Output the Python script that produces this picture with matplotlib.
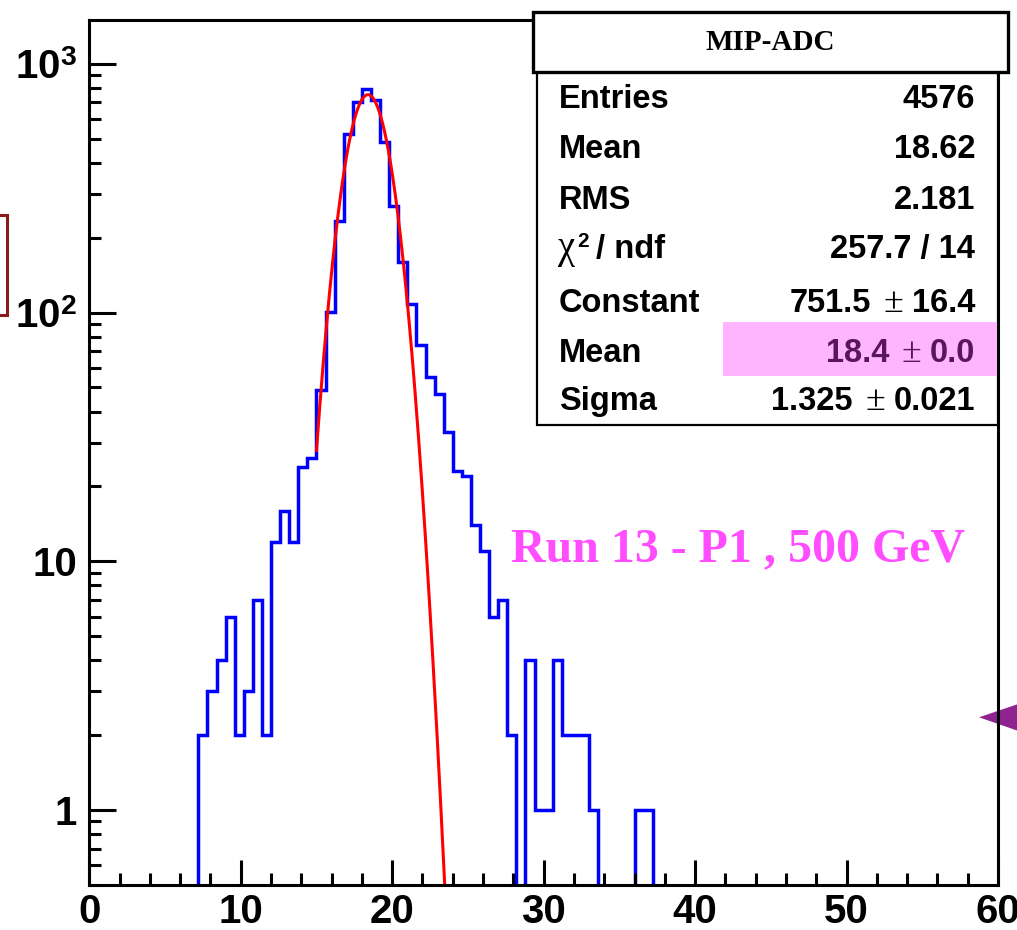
import numpy as np
import matplotlib
matplotlib.use('Agg')
import matplotlib.pyplot as plt
from matplotlib.patches import Rectangle, Polygon
from matplotlib.ticker import FixedLocator, FixedFormatter, MultipleLocator, NullFormatter

# histogram: 100 bins of 0.6 between 0 and 60, first filled bin is #12 (7.2)
n_bins = 100
x_lo, x_hi = 0.0, 60.0
first_bin = 12
counts_from_first = [2, 3, 4, 6, 2, 3, 7, 2,
                     12, 16, 12, 24, 26, 49,
                     101, 234, 524, 705, 790, 715, 485, 268, 160, 108,
                     74, 55, 47, 33, 23, 22, 14, 11, 6, 7, 2,
                     0, 4, 1, 1, 4, 2, 2, 2, 1, 0, 0, 0, 0, 1, 1]

# gaus fit result
fit_const = 751.5
fit_mean = 18.4
fit_sigma = 1.325
fit_range = (15.0, 24.0)

# stats box
stat_title = "MIP-ADC"
stat_labels = ["Entries", "Mean", "RMS", None, "Constant", "Mean", "Sigma"]
stat_values = ["4576", "18.62", "2.181", "257.7 / 14", "751.5", "18.4", "1.325"]
stat_errors = [None, None, None, None, "16.4", "0.0", "0.021"]

run_label = "Run 13 - P1 , 500 GeV"

y_ticks = [1, 10, 100, 1000]
y_ticklabels = ["1", "10", r"$10^{2}$", r"$10^{3}$"]

plt.rcParams['mathtext.fontset'] = 'custom'
plt.rcParams['mathtext.rm'] = 'Liberation Sans:bold'
plt.rcParams['mathtext.bf'] = 'Liberation Sans:bold'
plt.rcParams['mathtext.it'] = 'Liberation Serif'

W, H = 1017, 930
def fx(x):
    return x / W
def fy(y):
    return 1 - y / H

fig = plt.figure(figsize=(W / 100, H / 100), dpi=100)
ax = fig.add_axes([fx(89.3), fy(885), (998 - 89.3) / W, (885 - 20) / H])
ax.set_facecolor('none')

counts = np.zeros(n_bins)
counts[first_bin:first_bin + len(counts_from_first)] = counts_from_first
edges = np.linspace(x_lo, x_hi, n_bins + 1)

ax.set_yscale('log')
ax.stairs(counts, edges, color='#0000ff', lw=2.5, baseline=None)

xf = np.linspace(fit_range[0], fit_range[1], 400)
yf = fit_const * np.exp(-0.5 * ((xf - fit_mean) / fit_sigma) ** 2)
ax.plot(xf, yf, color='#ff0000', lw=2.2)

ax.set_xlim(x_lo, x_hi)
ax.set_ylim(0.5, 1500)

for s in ax.spines.values():
    s.set_linewidth(2.2)

ax.xaxis.set_major_locator(MultipleLocator(10))
ax.xaxis.set_minor_locator(MultipleLocator(2))
ax.yaxis.set_major_locator(FixedLocator(y_ticks))
ax.yaxis.set_major_formatter(FixedFormatter(y_ticklabels))
ax.yaxis.set_minor_formatter(NullFormatter())
ax.tick_params(which='both', direction='in', top=False, right=False, width=2.2)
ax.tick_params(axis='x', which='major', length=18, pad=6)
ax.tick_params(axis='x', which='minor', length=8.6)
ax.tick_params(axis='y', which='major', length=19.5, pad=9)
ax.tick_params(axis='y', which='minor', length=8.6)
for lab in ax.get_xticklabels() + ax.get_yticklabels():
    lab.set_fontfamily('Liberation Sans')
    lab.set_fontweight('bold')
    lab.set_fontsize(29)

# stray annotation shapes at the image borders
fig.patches.append(Rectangle((fx(-20), fy(315)), fx(27), fy(215) - fy(315),
                             transform=fig.transFigure, fill=False,
                             edgecolor='#8b1a1a', lw=2.2))
fig.patches.append(Polygon([(fx(979), fy(717.3)), (fx(1030), fy(700)), (fx(1030), fy(735))],
                           closed=True, transform=fig.transFigure,
                           facecolor='#8e2391', edgecolor='none', zorder=-1))

# stats box
fig.patches.append(Rectangle((fx(536.7), fy(425)), fx(998.3 - 536.7), fy(71.7) - fy(425),
                             transform=fig.transFigure, facecolor='white',
                             edgecolor='black', lw=1.6, zorder=1))
fig.patches.append(Rectangle((fx(533.3), fy(71.7)), fx(1008 - 533.3), fy(11.7) - fy(71.7),
                             transform=fig.transFigure, facecolor='white',
                             edgecolor='black', lw=2.4, zorder=1.2))
fig.patches.append(Rectangle((fx(722.7), fy(375.7)), fx(996.7 - 722.7), fy(322) - fy(375.7),
                             transform=fig.transFigure, facecolor='#ffb4ff',
                             edgecolor='none', zorder=1.5))
fig.text(fx(770), fy(50), stat_title, ha='center', va='baseline',
         fontfamily='Liberation Serif', fontweight='bold', fontsize=21)

fs = 23.5
renderer = fig.canvas.get_renderer()
baselines = [108.3, 158.3, 209.3, 258.3, 311.7, 361.7, 410]
x_right = 975
for i, (lab, val, err) in enumerate(zip(stat_labels, stat_values, stat_errors)):
    yb = fy(baselines[i])
    col = '#5a165a' if i == 5 else 'black'
    if lab is None:
        # chi2 / ndf label
        fig.text(fx(557), yb, "\u03c7", ha='left', va='baseline',
                 fontfamily='Liberation Serif', fontsize=28)
        fig.text(fx(577), fy(247), "2", ha='left', va='baseline',
                 fontfamily='Liberation Sans', fontweight='bold', fontsize=15)
        fig.text(fx(596), yb, "/ ndf", ha='left', va='baseline',
                 fontfamily='Liberation Sans', fontweight='bold', fontsize=fs)
    else:
        fig.text(fx(559), yb, lab, ha='left', va='baseline', fontfamily='Liberation Sans',
                 fontweight='bold', fontsize=fs)
    if err is None:
        fig.text(fx(x_right), yb, val, ha='right', va='baseline', fontfamily='Liberation Sans',
                 fontweight='bold', fontsize=fs, color=col)
        continue
    t_err = fig.text(fx(x_right), yb, err, ha='right', va='baseline', fontfamily='Liberation Sans',
                     fontweight='bold', fontsize=fs, color=col)
    x0 = t_err.get_window_extent(renderer).x0
    t_pm = fig.text((x0 - 8) / W, yb, "\u00b1", ha='right', va='baseline',
                    fontfamily='Liberation Serif', fontsize=26, color=col)
    x1 = t_pm.get_window_extent(renderer).x0
    fig.text((x1 - 13) / W, yb, val, ha='right', va='baseline', fontfamily='Liberation Sans',
             fontweight='bold', fontsize=fs, color=col)

fig.text(fx(511), fy(561.7), run_label, ha='left', va='baseline', color='#ff4dff',
         fontfamily='Liberation Serif', fontweight='bold', fontsize=34.5)

fig.savefig('out.png', dpi=100)
